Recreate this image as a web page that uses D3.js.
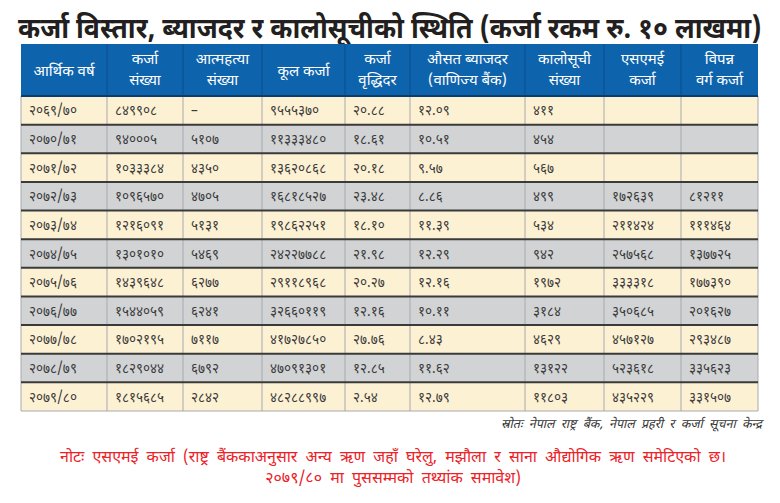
<!DOCTYPE html>
<html>
<head>
<meta charset="utf-8">
<script src="https://cdn.jsdelivr.net/npm/d3@7"></script>
<style>
  body { margin: 0; background: #fff; }
  text { font-family: "Noto Sans Devanagari", "Noto Sans", "DejaVu Sans", sans-serif; }
</style>
</head>
<body>
<svg id="chart" width="780" height="503"></svg>
<script>
// table data, one array per column
var headers = [
  ["आर्थिक वर्ष"], ["कर्जा", "संख्या"], ["आत्महत्या", "संख्या"], ["कूल कर्जा"],
  ["कर्जा", "वृद्धिदर"], ["औसत ब्याजदर", "(वाणिज्य बैंक)"], ["कालोसूची", "संख्या"],
  ["एसएमई", "कर्जा"], ["विपन्न", "वर्ग कर्जा"]
]
var years = ["२०६९/७०", "२०७०/७१", "२०७१/७२", "२०७२/७३", "२०७३/७४", "२०७४/७५", "२०७५/७६", "२०७६/७७", "२०७७/७८", "२०७८/७९", "२०७९/८०"]
var loanCount = ["८४९९०८", "९४०००५", "१०३३३८४", "१०९६५७०", "१२१६०९१", "१३०१०१०", "१४३९६४८", "१५४४०५९", "१७०२१९५", "१८२९०४४", "१८१५६८५"]
var suicides = ["–", "५१०७", "४३५०", "४७०५", "५१३१", "५४६९", "६२७७", "६२४१", "७११७", "६७९२", "२८४२"]
var totalLoan = ["९५५५३७०", "११३३३४८०", "१३६२०८६८", "१६८१८५२७", "१९८६२२५१", "२४२२७७८८", "२९११८९६८", "३२६६०११९", "४१७२७८५०", "४७०९१३०१", "४८२८८९९७"]
var growth = ["२०.८८", "१८.६१", "२०.१८", "२३.४८", "१८.१०", "२१.९८", "२०.२७", "१२.१६", "२७.७६", "१२.८५", "२.५४"]
var interest = ["१२.०९", "१०.५१", "९.५७", "८.८६", "११.३९", "१२.२९", "१२.१६", "१०.११", "८.४३", "११.६२", "१२.७९"]
var blacklist = ["४११", "४५४", "५६७", "४९९", "५३४", "९४२", "१९७२", "३१८४", "४६२९", "१३१२२", "११८०३"]
var smeLoan = ["", "", "", "१७२६३९", "२११४२४", "२५७५६८", "३३३३१८", "३५०६८५", "४५७१२७", "५२३६१८", "४३५२२९"]
var deprived = ["", "", "", "८१२११", "१११४६४", "१३७७२५", "१७७३९०", "२०१६२७", "२९३४८७", "३३५६२३", "३३१५०७"]

var columns = [years, loanCount, suicides, totalLoan, growth, interest, blacklist, smeLoan, deprived]

var svg = d3.select("#chart")

// column edges
var edges = [21, 107, 183, 262, 345, 410, 525, 604, 681, 758]
var x = d3.scaleOrdinal().domain(d3.range(columns.length)).range(edges)
var colW = function(i) { return edges[i + 1] - edges[i] }

var headTop = 44, headBottom = 96, tableBottom = 411
var y = d3.scaleBand().domain(d3.range(years.length)).range([headBottom, tableBottom])

// title, squeezed horizontally to fit the width like the condensed original
var title = svg.append("text")
    .attr("x", 0)
    .attr("y", 0)
    .style("font-size", "29px")
    .style("font-weight", "bold")
    .style("fill", "#231f20")
    .text("कर्जा विस्तार, ब्याजदर र कालोसूचीको स्थिति (कर्जा रकम रु. १० लाखमा)")
var tw = title.node().getComputedTextLength()
title.attr("transform", "translate(18,38) scale(" + Math.min(1, 744 / tw) + ",1)")

// header band
svg.append("rect")
    .attr("x", edges[0]).attr("y", headTop)
    .attr("width", edges[edges.length - 1] - edges[0])
    .attr("height", headBottom - headTop)
    .style("fill", "#0e63ad")

var hd = svg.selectAll("g.head")
    .data(headers).enter()
    .append("g").attr("class", "head")

hd.append("line")
    .attr("x1", function(d, i) { return x(i) }).attr("x2", function(d, i) { return x(i) })
    .attr("y1", headTop).attr("y2", headBottom)
    .style("stroke", "#0a4f8c").style("stroke-width", 1)
    .style("display", function(d, i) { return i == 0 ? "none" : null })

hd.each(function(d, i) {
    var g = d3.select(this)
    var cx = x(i) + colW(i) / 2
    d.forEach(function(line, k) {
        var yy = d.length == 1 ? (headTop + headBottom) / 2 + 6 : headTop + 20 + k * 21
        g.append("text")
            .attr("x", cx).attr("y", yy)
            .attr("text-anchor", "middle")
            .style("font-size", "15px")
            .style("fill", "#fff")
            .text(line)
    })
})

// rows
var rows = svg.selectAll("g.row")
    .data(years).enter()
    .append("g").attr("class", "row")

rows.append("rect")
    .attr("x", edges[0])
    .attr("y", function(d, i) { return y(i) })
    .attr("width", edges[edges.length - 1] - edges[0])
    .attr("height", y.bandwidth())
    .style("fill", function(d, i) { return i % 2 == 0 ? "#fdf1d3" : "#d1d3d5" })

// vertical cell lines
svg.selectAll("line.vline")
    .data(edges).enter()
    .append("line").attr("class", "vline")
    .attr("x1", function(d) { return d }).attr("x2", function(d) { return d })
    .attr("y1", headBottom).attr("y2", tableBottom)
    .style("stroke", "#a7a9ac").style("stroke-width", 1)

// row separators
svg.selectAll("line.hline")
    .data(d3.range(years.length)).enter()
    .append("line").attr("class", "hline")
    .attr("x1", edges[0]).attr("x2", edges[edges.length - 1])
    .attr("y1", function(d) { return y(d) }).attr("y2", function(d) { return y(d) })
    .style("stroke", function(d) { return d == 0 ? "#0a3d6b" : "#3a3a3a" })
    .style("stroke-width", 2)

svg.append("line")
    .attr("x1", edges[0]).attr("x2", edges[edges.length - 1])
    .attr("y1", tableBottom).attr("y2", tableBottom)
    .style("stroke", "#a7a9ac").style("stroke-width", 1)

// cell text
columns.forEach(function(col, c) {
    svg.selectAll("text.c" + c)
        .data(col).enter()
        .append("text").attr("class", "c" + c)
        .attr("x", x(c) + 8)
        .attr("y", function(d, i) { return y(i) + y.bandwidth() / 2 + 5 })
        .style("font-size", "13.5px")
        .style("fill", "#3b3b3b")
        .text(function(d) { return d })
})

// source
svg.append("text")
    .attr("x", 762).attr("y", 428)
    .attr("text-anchor", "end")
    .style("font-size", "12.5px")
    .style("font-style", "italic")
    .style("word-spacing", "3px")
    .style("fill", "#333")
    .text("स्रोतः नेपाल राष्ट्र बैंक, नेपाल प्रहरी र कर्जा सूचना केन्द्र")

// note
var notes = ["नोटः एसएमई कर्जा (राष्ट्र बैंककाअनुसार अन्य ऋण जहाँ घरेलु, मझौला र साना औद्योगिक ऋण समेटिएको छ।",
             "२०७९/८० मा पुससम्मको तथ्यांक समावेश)"]
svg.selectAll("text.note")
    .data(notes).enter()
    .append("text").attr("class", "note")
    .attr("x", 393)
    .attr("y", function(d, i) { return 462 + i * 21 })
    .attr("text-anchor", "middle")
    .style("font-size", "16px")
    .style("word-spacing", "4px")
    .style("fill", "#ec2227")
    .text(function(d) { return d })
</script>
</body>
</html>
